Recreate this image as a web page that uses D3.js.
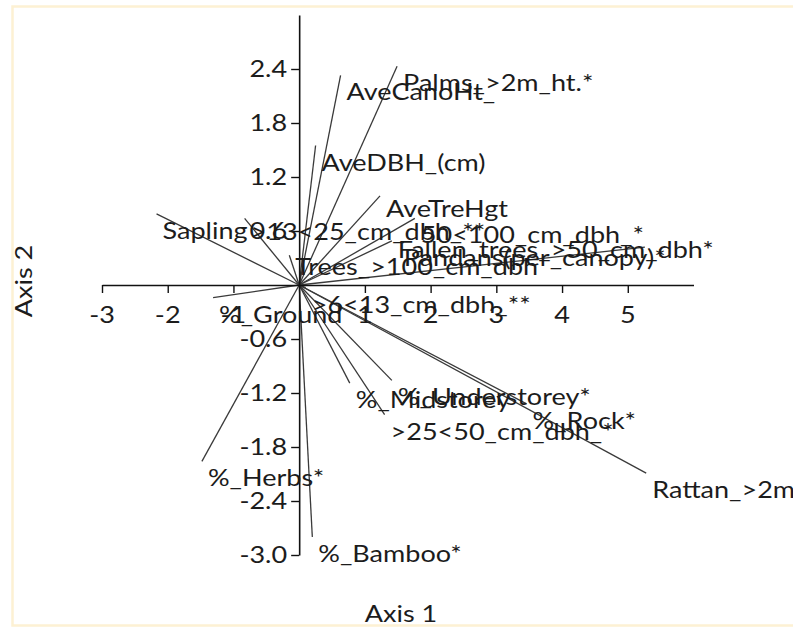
<!DOCTYPE html>
<html>
<head>
<meta charset="utf-8">
<script src="https://cdn.jsdelivr.net/npm/d3@7"></script>
<style>
  html, body { margin: 0; padding: 0; background: #fff; }
  svg { display: block; }
  text { font-family: Lato, "Open Sans", sans-serif; fill: #1c1c1c; }
</style>
</head>
<body>
<svg id="chart" width="793" height="628"></svg>
<script>
// Biplot vectors: variable names and their scores on Axis 1 / Axis 2
const variables = [
  "Palms_>2m_ht.*", "AveCanoHt_", "AveDBH_(cm)", "AveTreHgt",
  "50<100_cm_dbh_*", "Fallen_trees_>50_cm_dbh*", "Pandans(per_canopy)*",
  "Trees_>100_cm_dbh", "Sapling", ">13<25_cm_dbh_**", "%_Ground",
  ">6<13_cm_dbh_**", "%_Midstorey", "%_Understorey*", ">25<50_cm_dbh_*",
  "%_Rock*", "Rattan_>2m", "%_Herbs*", "%_Bamboo*"
];
const axis1Scores = [
  1.49, 0.63, 0.25, 1.23,
  1.76, 1.41, 5.26,
  -0.15, -2.17, -0.83, -1.31,
  0.10, 0.77, 1.41, 1.30,
  3.46, 5.28, -1.48, 0.20
];
const axis2Scores = [
  2.43, 2.33, 1.55, 0.99,
  0.74, 0.49, 0.42,
  0.33, 0.79, 0.74, -0.14,
  -0.03, -1.09, -1.06, -1.44,
  -1.32, -2.09, -1.96, -2.80
];

// Axis ticks
const axis1Ticks = [-3, -2, -1, 1, 2, 3, 4, 5];
const axis2Ticks = [2.4, 1.8, 1.2, 0.6, -0.6, -1.2, -1.8, -2.4, -3.0];
const axis1Title = "Axis 1";
const axis2Title = "Axis 2";

// Label placement tweaks (pixels) for crowded vectors
const labelNudge = {
  "Fallen_trees_>50_cm_dbh*": [0, -8],
  "Trees_>100_cm_dbh": [0, -5],
  "AveTreHgt": [0, -4],
  ">13<25_cm_dbh_**": [0, -3],
  "Pandans(per_canopy)*": [-247, -6]
};

const svg = d3.select("#chart");
const x = d3.scaleLinear().domain([-3, 6]).range([102, 693.5]);
const y = d3.scaleLinear().domain([-3, 3]).range([555, 15]);
const FS = 23.5, SX = 1.15;
const fmt1 = t => String(t);
const fmt2 = t => t.toFixed(1);

// frame
svg.append("rect")
  .attr("x", 12.5).attr("y", 6.5).attr("width", 800).attr("height", 619)
  .attr("fill", "none").attr("stroke", "#fdf1d3").attr("stroke-width", 2.5);

// helper: horizontally widened text anchored at (px, py)
function label(g, px, py, str, anchor) {
  return g.append("text")
    .attr("transform", `translate(${px},${py}) scale(${SX},1)`)
    .attr("text-anchor", anchor || "start")
    .attr("font-size", FS)
    .text(str);
}

// vectors
const data = variables.map((v, i) => ({ name: v, a1: axis1Scores[i], a2: axis2Scores[i] }));
const vec = svg.append("g");
vec.selectAll("line").data(data).join("line")
  .attr("x1", x(0)).attr("y1", y(0))
  .attr("x2", d => x(d.a1)).attr("y2", d => y(d.a2))
  .attr("stroke", "#3a3a3a").attr("stroke-width", 1.3);

// axes
const gx = svg.append("g").attr("transform", `translate(0,${y(0)})`)
  .call(d3.axisBottom(x).tickValues(axis1Ticks).tickSize(8).tickSizeOuter(0).tickFormat(fmt1));
const gy = svg.append("g").attr("transform", `translate(${x(0)},0)`)
  .call(d3.axisLeft(y).tickValues(axis2Ticks).tickSize(8).tickSizeOuter(0).tickFormat(fmt2));
[gx, gy].forEach(g => {
  g.select(".domain").attr("stroke", "#111").attr("stroke-width", 1.6);
  g.selectAll(".tick line").attr("stroke", "#111").attr("stroke-width", 1.4);
  g.selectAll(".tick text").remove();
});
// tick labels
const tl = svg.append("g");
axis1Ticks.forEach(t => label(tl, x(t), y(0) + 38, fmt1(t), "middle"));
axis2Ticks.forEach(t => label(tl, x(0) - 12, y(t) + 8, fmt2(t), "end"));

// vector labels
const lab = svg.append("g");
data.forEach(d => {
  const n = labelNudge[d.name] || [0, 0];
  label(lab, x(d.a1) + 6 + n[0], y(d.a2) + 25 + n[1], d.name);
});

// axis titles
label(svg, 401, 622, axis1Title, "middle");
svg.append("text")
  .attr("transform", `translate(32,281) rotate(-90) scale(${SX},1)`)
  .attr("text-anchor", "middle").attr("font-size", FS)
  .text(axis2Title);
</script>
</body>
</html>
